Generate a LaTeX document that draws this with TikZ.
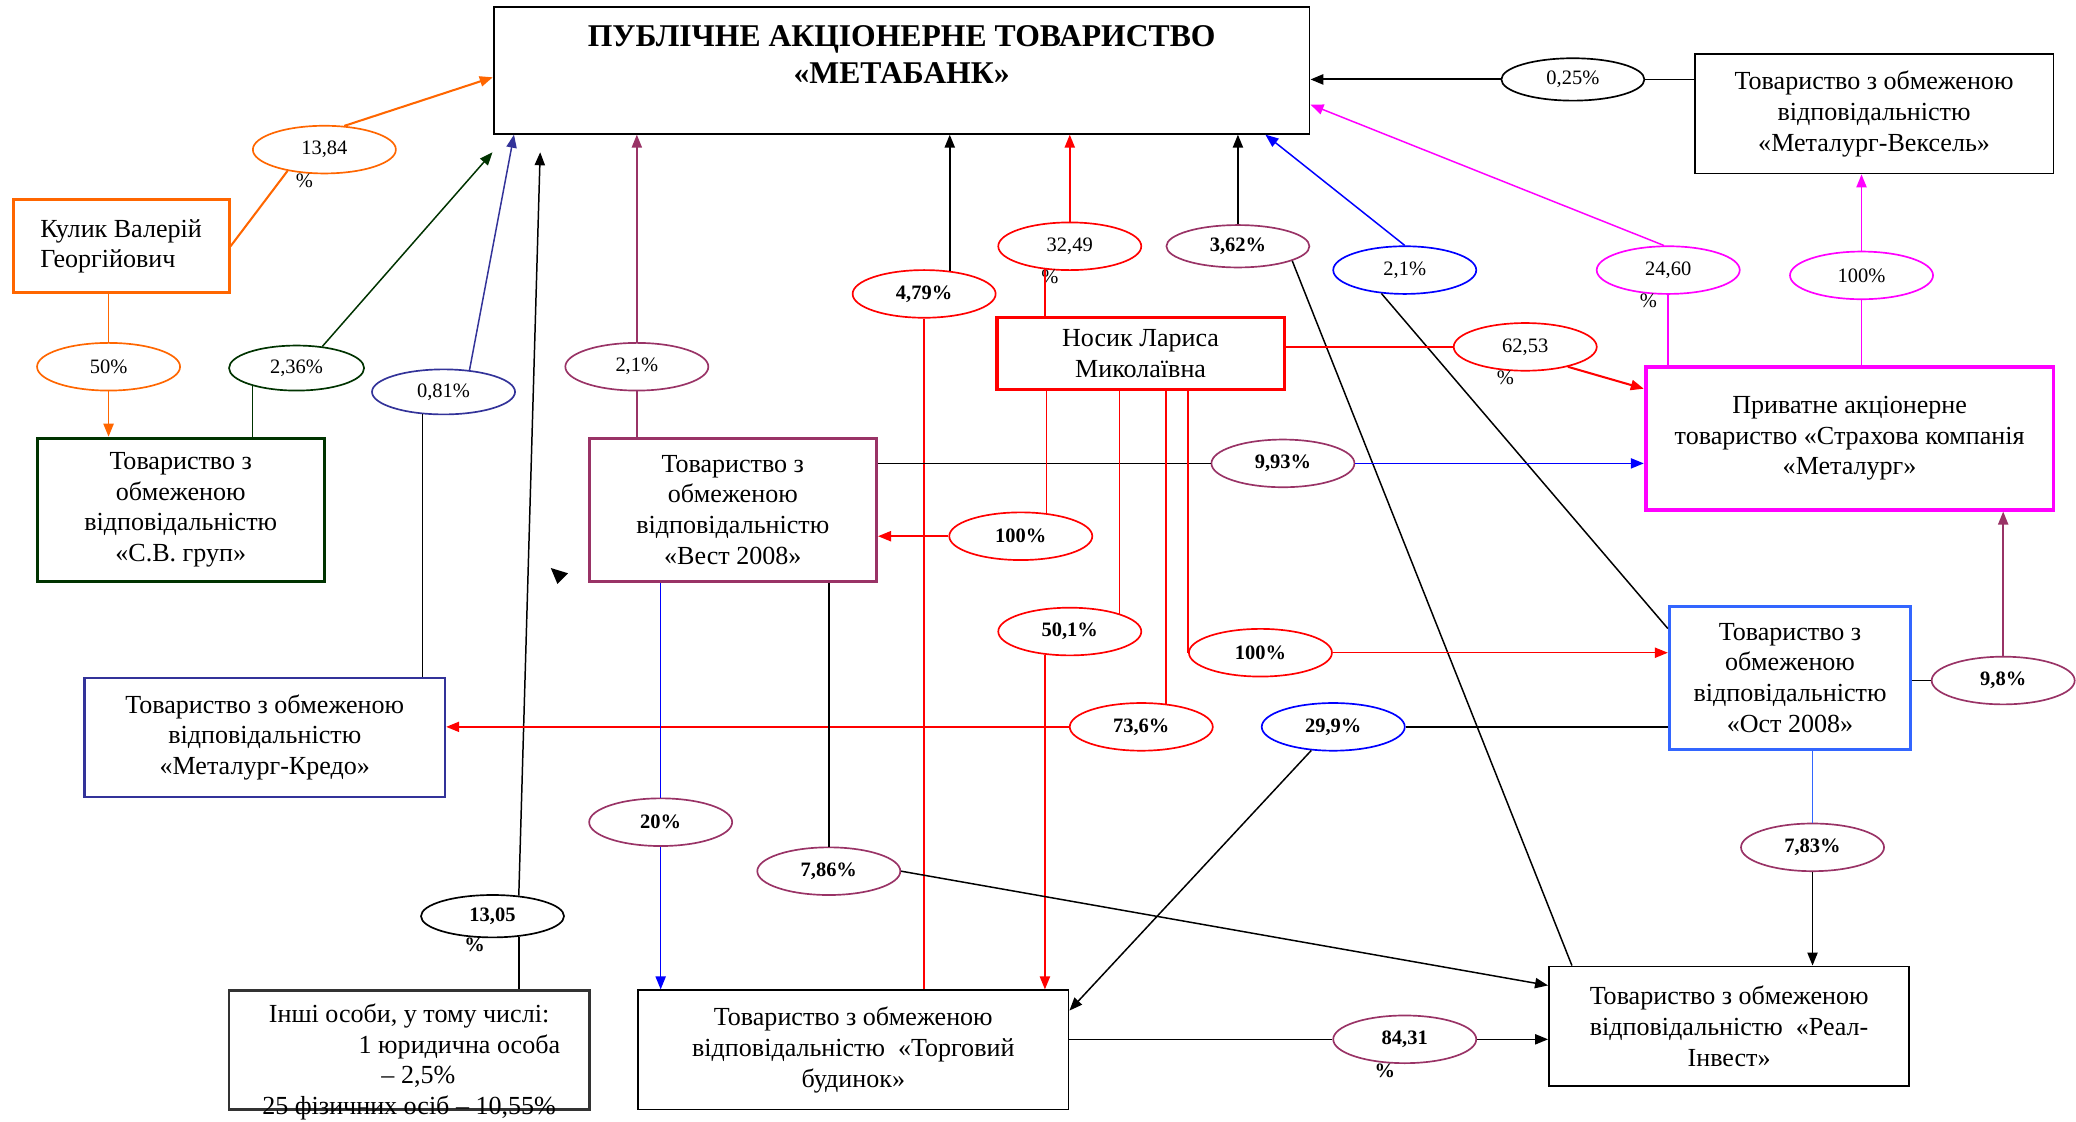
\documentclass[tikz,border=0pt]{standalone}
\usepackage{fontspec}
\setmainfont{Liberation Serif}
\usetikzlibrary{arrows.meta,shapes.geometric}
\definecolor{orng}{HTML}{FF6600}
\definecolor{dkgreen}{HTML}{003300}
\definecolor{indigo}{HTML}{333399}
\definecolor{plum}{HTML}{993366}
\definecolor{skyblue}{HTML}{3366FF}
\definecolor{dkgray}{HTML}{333333}
\definecolor{fuchsia}{HTML}{FF00FF}

\begin{document}
\begin{tikzpicture}[x=0.025cm,y=-0.025cm,
    firm/.style={draw, rectangle, align=center, inner sep=2pt, line width=1pt,
      font=\fontsize{14}{16.5}\selectfont},
    share/.style={draw, ellipse, minimum width=2.7cm, minimum height=0.9cm, inner sep=0pt,
      line width=0.9pt, font=\fontsize{11}{13}\selectfont},
    bshare/.style={share, font=\fontsize{11}{13}\selectfont\bfseries},
    pct/.style={inner sep=0pt, anchor=north, font=\fontsize{11}{13}\selectfont},
    bpct/.style={pct, font=\fontsize{11}{13}\selectfont\bfseries},
    arr/.style={-{Triangle[length=7pt,width=5.5pt]}},
    lnk/.style={line width=0.8pt}]
      \useasboundingbox (0,0) rectangle (1568,847);

      \node[firm, minimum width=15.4cm, minimum height=2.4cm] (bank) at (681,53) {};
      \node[font=\fontsize{17}{20}\selectfont\bfseries, align=center] (banktitle) at (681,41)
        {ПУБЛІЧНЕ АКЦІОНЕРНЕ ТОВАРИСТВО\\«МЕТАБАНК»};

      \node[firm, draw=orng, line width=1.6pt, align=left, minimum width=4.075cm, minimum height=1.75cm]
        (kulyk) at (91.5,186) {Кулик Валерій\\Георгійович};
      \node[firm, draw=dkgreen, line width=1.6pt, minimum width=5.425cm, minimum height=2.7cm]
        (svgroup) at (136.5,385) {Товариство з\\обмеженою\\відповідальністю\\«С.В. груп»};
      \node[firm, draw=indigo, line width=1.4pt, minimum width=6.8cm, minimum height=2.25cm]
        (kredo) at (200,557) {Товариство з обмеженою\\відповідальністю\\«Металург-Кредо»};
      \node[firm, draw=plum, line width=1.6pt, minimum width=5.425cm, minimum height=2.7cm]
        (vest) at (553.5,385) {Товариство з\\обмеженою\\відповідальністю\\«Вест 2008»};
      \node[firm, draw=red, line width=1.8pt, minimum width=5.425cm, minimum height=1.35cm]
        (nosyk) at (861.5,267) {Носик Лариса\\Миколаївна};
      \node[firm, minimum width=6.775cm, minimum height=2.25cm]
        (vexel) at (1415.5,86) {Товариство з обмеженою\\відповідальністю\\«Металург-Вексель»};
      \node[firm, draw=fuchsia, line width=2pt, minimum width=7.7cm, minimum height=2.7cm]
        (strakh) at (1397,331) {Приватне акціонерне\\товариство «Страхова компанія\\«Металург»};
      \node[firm, draw=skyblue, line width=1.8pt, minimum width=4.55cm, minimum height=2.7cm]
        (ost) at (1352,512) {Товариство з\\обмеженою\\відповідальністю\\«Ост 2008»};
      \node[firm, minimum width=6.8cm, minimum height=2.25cm]
        (real) at (1306,775) {Товариство з обмеженою\\відповідальністю\ \ «Реал-\\Інвест»};
      \node[firm, minimum width=8.125cm, minimum height=2.25cm]
        (torg) at (644.5,793) {Товариство з обмеженою\\відповідальністю\ \ «Торговий\\будинок»};
      \node[firm, draw=dkgray, line width=1.6pt, minimum width=6.8cm, minimum height=2.25cm]
        (inshi) at (309,793) {};
      \node[align=center, font=\fontsize{14}{16.5}\selectfont] (inshitext) at (309,802)
        {Інші особи, у тому числі:\\\hspace*{1.9cm}1 юридична особа\\\hspace*{0.35cm}– 2,5\%\\25 фізичних осіб – 10,55\%};

      \node[share, draw=orng, label={[pct]-130:\%}] (e1384) at (245,113) {13,84};
      \node[share, draw=orng] (e50) at (82,277) {50\%};
      \node[share, draw=dkgreen, minimum width=2.55cm, minimum height=0.85cm] (e236) at (224,278) {2,36\%};
      \node[share, draw=indigo, minimum height=0.85cm] (e081) at (335,296) {0,81\%};
      \node[bshare, minimum height=0.8cm, label={[bpct]-130:\%}] (e1305) at (372,692) {13,05};
      \node[share, draw=plum] (e21a) at (481,277) {2,1\%};
      \node[bshare, draw=red] (e479) at (698,222) {4,79\%};
      \node[share, draw=red, label={[pct]-130:\%}] (e3249) at (808,186) {32,49};
      \node[bshare, draw=plum, minimum height=0.8cm] (e362) at (935,186) {3,62\%};
      \node[share, draw=blue] (e21b) at (1061,204) {2,1\%};
      \node[share, minimum height=0.8cm] (e025) at (1188,60) {0,25\%};
      \node[share, draw=fuchsia, label={[pct]-130:\%}] (e2460) at (1260,204) {24,60};
      \node[share, draw=fuchsia] (e100m) at (1406,208) {100\%};
      \node[share, draw=red, label={[pct]-130:\%}] (e6253) at (1152,262) {62,53};
      \node[bshare, draw=plum] (e993) at (969,350) {9,93\%};
      \node[bshare, draw=red] (e100r) at (771,405) {100\%};
      \node[bshare, draw=red] (e501) at (808,477) {50,1\%};
      \node[bshare, draw=red] (e100o) at (952,493) {100\%};
      \node[bshare, draw=red] (e736) at (862,549) {73,6\%};
      \node[bshare, draw=blue] (e299) at (1007,549) {29,9\%};
      \node[bshare, draw=plum] (e20) at (499,621) {20\%};
      \node[bshare, draw=plum] (e786) at (626,658) {7,86\%};
      \node[bshare, draw=plum] (e783) at (1369,640) {7,83\%};
      \node[bshare, draw=plum] (e98) at (1513,514) {9,8\%};
      \node[bshare, draw=plum, label={[bpct]-130:\%}] (e8431) at (1061,785) {84,31};

      \coordinate (gtip) at (372,115);
      \coordinate (btip) at (408,115);
      \fill (416,429) -- (429,433) -- (421,441) -- cycle;

      \path[lnk]
      (kulyk.east) edge[orng, line width=1.1pt] (e1384.-150)
      (e1384.50) edge[arr, orng, line width=1.1pt] (bank.181)
      (kulyk.south -| e50) edge[orng] (e50.north)
      (e50.south) edge[arr, orng] (e50 |- svgroup.north)
      (e236.-158 |- svgroup.north) edge[dkgreen] (e236.-158)
      (e236.40) edge[arr, dkgreen] (gtip)
      (e081.-133 |- kredo.north) edge (e081.-133)
      (e081.40) edge[arr, indigo] ([xshift=0.4cm]bank.south west)
      (e1305.-38 |- inshi.north) edge (e1305.-38)
      (e1305.38) edge[arr] (btip)
      (e21a |- vest.north) edge[plum] (e21a.south)
      (e21a.north) edge[arr, plum] (e21a |- bank.south)

      (e479.42) edge[arr] (e479.42 |- bank.south)
      (e479.south) edge[red] (e479.south |- torg.north)
      (e3249.north) edge[arr, red] (e3249.north |- bank.south)
      (e3249.-137 |- nosyk.north) edge[red] (e3249.-137)
      (e362.north) edge[arr] (e362.north |- bank.south)
      (e362.-15) edge ([xshift=0.45cm]real.north west)
      (e21b.north) edge[arr, blue] ([xshift=-0.85cm]bank.south east)
      (e21b.-135) edge ([yshift=-0.45cm]ost.north west)
      (vexel.west |- e025.east) edge (e025.east)
      (e025.west) edge[arr, line width=1.1pt] (e025.west -| bank.east)
      (e2460.100) edge[arr, fuchsia] ([yshift=-0.65cm]bank.east)
      (e2460.south |- strakh.north) edge[fuchsia] (e2460.south)
      (e100m.south |- strakh.north) edge[fuchsia] (e100m.south)
      (e100m.north) edge[arr, fuchsia] (e100m.north |- vexel.south)

      (e6253.west -| nosyk.east) edge[red] (e6253.west)
      (e6253.-25) edge[arr, red, line width=1.1pt] ([yshift=-0.45cm]strakh.north west)
      (e993.west -| vest.east) edge (e993.west)
      (e993.east) edge[arr, blue] (e993.east -| strakh.west)
      (e100r.42 |- nosyk.south) edge[red] (e100r.42)
      (e100r.west) edge[arr, red] (e100r.west -| vest.east)
      (e501.20 |- nosyk.south) edge[red] (e501.20)
      (e501.-137) edge[arr, red] (e501.-137 |- torg.north)
      (e100o.west |- nosyk.south) edge[red] (e100o.west)
      (e100o.east) edge[arr, red] (e100o.east -| ost.west)
      (e736.43 |- nosyk.south) edge[red] (e736.43)
      (e736.west) edge[arr, red] (e736.west -| kredo.east)

      (e299.east -| ost.west) edge (e299.east)
      (e299.-133) edge[arr] ([yshift=-0.4cm]torg.north east)
      (e20.north |- vest.south) edge[blue] (e20.north)
      (e20.south) edge[arr, blue] (e20.south |- torg.north)
      (e786.north |- vest.south) edge (e786.north)
      (e786.east) edge[arr] ([yshift=-0.375cm]real.north west)
      (e783.north |- ost.south) edge[skyblue] (e783.north)
      (e783.south) edge[arr] (e783.south |- real.north)
      (e98.west -| ost.east) edge (e98.west)
      (e98.north) edge[arr, plum] (e98.north |- strakh.south)
      (e8431.west -| torg.east) edge (e8431.west)
      (e8431.east) edge[arr] (e8431.east -| real.west)
      ;

\end{tikzpicture}
\end{document}
